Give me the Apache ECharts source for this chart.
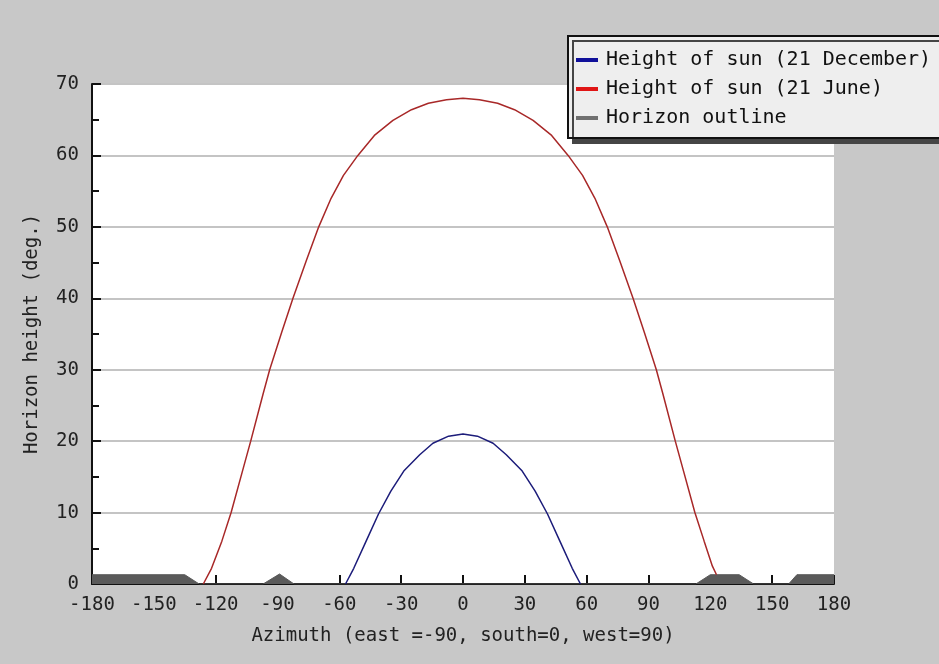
<!DOCTYPE html>
<html>
<head>
<meta charset="utf-8">
<script src="https://cdn.jsdelivr.net/npm/echarts@6/dist/echarts.min.js"></script>
<style>
html,body{margin:0;padding:0;background:#c8c8c8;}
#chart{width:939px;height:664px;}
</style>
</head>
<body>
<div id="chart"></div>
<script>
// Data: [azimuth, height]
var seriesNames = ['Height of sun (21 December)', 'Height of sun (21 June)', 'Horizon outline'];
var xTicks = [-180, -150, -120, -90, -60, -30, 0, 30, 60, 90, 120, 150, 180];
var yTicks = [0, 10, 20, 30, 40, 50, 60, 70];

var december = [
  [-57, 0], [-53, 2.2], [-47, 6], [-41, 9.8], [-35, 13], [-28.5, 15.9], [-21, 18.1],
  [-14.6, 19.7], [-7, 20.7], [0, 21], [7, 20.7], [14.6, 19.7], [21, 18.1], [28.5, 15.9],
  [35, 13], [41, 9.8], [47, 6], [53, 2.2], [57, 0]
];

var june = [
  [-126, 0], [-122, 2.2], [-117, 6], [-112.5, 10], [-107, 15.8], [-103, 20], [-97, 26.6],
  [-93.8, 30], [-88, 35.2], [-82.5, 40], [-76, 45.3], [-70, 50], [-64, 54],
  [-58, 57.2], [-51, 60], [-43, 62.8], [-34, 64.9], [-25, 66.4], [-16.8, 67.3], [-8, 67.8],
  [0, 68], [8, 67.8], [16.8, 67.3], [25, 66.4], [34, 64.9], [43, 62.8], [51, 60], [58, 57.2],
  [64, 54], [70, 50], [76, 45.3], [82.5, 40], [88, 35.2], [93.8, 30],
  [97, 26.6], [103, 20], [107, 15.8], [112.5, 10], [117, 6], [121, 2.5], [123, 1.3]
];

var horizon = [
  [-180, 1.3], [-135, 1.3], [-128, 0], [-97, 0], [-89, 1.4], [-82, 0], [113, 0],
  [120, 1.3], [134, 1.3], [141, 0], [158, 0], [162, 1.3], [180, 1.3]
];

var FONT = 'DejaVu Sans Mono';
var chart = echarts.init(document.getElementById('chart'), null, {renderer: 'canvas'});
chart.setOption({
  backgroundColor: '#c8c8c8',
  animation: false,
  textStyle: {fontFamily: FONT},
  grid: {
    left: 92, right: 105, top: 84, bottom: 80,
    show: true, backgroundColor: '#ffffff', borderWidth: 0
  },
  legend: {
    orient: 'vertical',
    left: 568, top: 36,
    padding: [14, 40, 10, 8],
    itemGap: 9,
    itemWidth: 22, itemHeight: 4,
    icon: 'rect',
    backgroundColor: '#eeeeee',
    borderColor: '#111111',
    borderWidth: 2,
    shadowColor: '#454545',
    shadowBlur: 0,
    shadowOffsetX: 5,
    shadowOffsetY: 5,
    textStyle: {fontFamily: FONT, fontSize: 20, color: '#111111', padding: [0, 0, 0, 3]},
    data: [
      {name: seriesNames[0], itemStyle: {color: '#10109a'}},
      {name: seriesNames[1], itemStyle: {color: '#e01515'}},
      {name: seriesNames[2], itemStyle: {color: '#707070'}}
    ]
  },
  xAxis: {
    type: 'value',
    min: xTicks[0], max: xTicks[xTicks.length - 1], interval: 30,
    name: 'Azimuth (east =-90, south=0, west=90)',
    nameLocation: 'middle', nameGap: 43,
    nameTextStyle: {fontFamily: FONT, fontSize: 19, color: '#222'},
    axisLine: {show: true, onZero: false, lineStyle: {color: '#111', width: 2}},
    axisTick: {show: true, inside: true, length: 9, lineStyle: {color: '#111', width: 2}},
    axisLabel: {fontFamily: FONT, fontSize: 19, color: '#222', margin: 12,
      formatter: function (v) { return String(v); }},
    splitLine: {show: false}
  },
  yAxis: {
    type: 'value',
    min: yTicks[0], max: yTicks[yTicks.length - 1], interval: 10,
    name: 'Horizon height (deg.)',
    nameLocation: 'middle', nameGap: 50,
    nameTextStyle: {fontFamily: FONT, fontSize: 19, color: '#222'},
    axisLine: {show: true, onZero: false, lineStyle: {color: '#111', width: 2}},
    axisTick: {show: true, inside: true, length: 9, lineStyle: {color: '#111', width: 2}},
    minorTick: {show: true, splitNumber: 2, length: 7, lineStyle: {color: '#111', width: 2}},
    axisLabel: {fontFamily: FONT, fontSize: 19, color: '#222', margin: 13},
    splitLine: {show: true, lineStyle: {color: '#c4c4c4', width: 2}}
  },
  series: [
    {
      name: seriesNames[2], type: 'line', data: horizon, symbol: 'none',
      z: 1, lineStyle: {color: '#5a5a5a', width: 1},
      itemStyle: {color: '#707070'},
      areaStyle: {color: '#5a5a5a', opacity: 1, origin: 'start'}
    },
    {
      name: seriesNames[0], type: 'line', data: december, symbol: 'none',
      z: 3, lineStyle: {color: '#1c1c7a', width: 1.5}, itemStyle: {color: '#10109a'}
    },
    {
      name: seriesNames[1], type: 'line', data: june, symbol: 'none',
      z: 3, lineStyle: {color: '#a82828', width: 1.5}, itemStyle: {color: '#e01515'}
    }
  ]
});
</script>
</body>
</html>
